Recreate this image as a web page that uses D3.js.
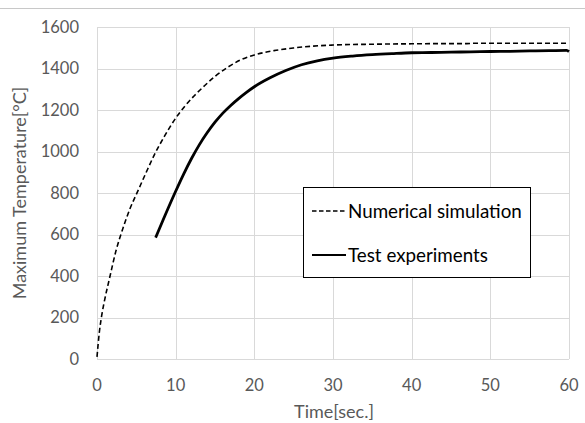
<!DOCTYPE html>
<html>
<head>
<meta charset="utf-8">
<script src="https://cdn.jsdelivr.net/npm/d3@7"></script>
<style>
  body { margin: 0; background: #fff; }
  svg { font-family: Lato, "Open Sans", sans-serif; }
</style>
</head>
<body>
<svg class="chart" width="585" height="423"></svg>
<script>
// Numerical simulation (dashed)
const simTime = [0, 0.3, 0.6, 1.0, 1.6, 2.4, 3.3, 4.2, 5.2, 6.2, 7.3, 8.6, 9.9, 11.2, 12.4, 13.7, 15.0, 16.7, 18.3, 20.0, 22.5, 25.0, 27.5, 30.0, 35.0, 40.0, 45.0, 47.0, 48.0, 60.0];
const simTemp = [10, 130, 210, 290, 390, 520, 630, 725, 810, 895, 985, 1075, 1155, 1220, 1270, 1318, 1362, 1408, 1442, 1465, 1486, 1499, 1508, 1513, 1517, 1519, 1520, 1520, 1522, 1522];

// Test experiments (solid, measured)
const expTime = [7.45, 8.4, 9.9, 11.0, 12.0, 13.0, 14.0, 15.0, 16.0, 17.0, 18.0, 19.0, 20.0, 22.0, 24.0, 26.0, 28.0, 30.0, 32.5, 35.0, 37.5, 40.0, 42.5, 45.0, 47.5, 50.0, 52.5, 55.0, 57.5, 59.7, 60.0];
const expTemp = [585, 670, 800, 890, 965, 1032, 1090, 1141, 1185, 1222, 1255, 1285, 1312, 1355, 1390, 1418, 1437, 1450, 1460, 1467, 1472, 1476, 1477, 1479, 1480, 1482, 1483, 1485, 1486, 1487, 1481];

const xTicks = [0, 10, 20, 30, 40, 50, 60];
const yTicks = [0, 200, 400, 600, 800, 1000, 1200, 1400, 1600];

const svg = d3.select(".chart");
const plot = { left: 97, right: 569, top: 27, bottom: 359 };

const x = d3.scaleLinear().domain([0, 60]).range([plot.left, plot.right]);
const y = d3.scaleLinear().domain([0, 1600]).range([plot.bottom, plot.top]);

// thin rule across the top of the frame
svg.append("line")
    .attr("x1", 0).attr("x2", 585)
    .attr("y1", 8.5).attr("y2", 8.5)
    .attr("stroke", "#c8c8c8")
    .attr("stroke-width", 1);

// gridlines
svg.append("g")
    .selectAll("line")
    .data(yTicks)
    .enter().append("line")
    .attr("x1", plot.left).attr("x2", plot.right)
    .attr("y1", d => Math.round(y(d)) + 0.5).attr("y2", d => Math.round(y(d)) + 0.5)
    .attr("stroke", "#d9d9d9");

svg.append("g")
    .selectAll("line")
    .data(xTicks)
    .enter().append("line")
    .attr("y1", plot.top).attr("y2", plot.bottom)
    .attr("x1", d => Math.round(x(d)) + 0.5).attr("x2", d => Math.round(x(d)) + 0.5)
    .attr("stroke", "#d9d9d9");

// tick labels
svg.append("g")
    .selectAll("text")
    .data(yTicks)
    .enter().append("text")
    .attr("x", 79)
    .attr("y", d => y(d))
    .attr("dy", "0.35em")
    .attr("text-anchor", "end")
    .attr("font-size", "16.5px")
    .attr("fill", "#595959")
    .text(d => d);

svg.append("g")
    .selectAll("text")
    .data(xTicks)
    .enter().append("text")
    .attr("x", d => x(d))
    .attr("y", 385)
    .attr("dy", "0.35em")
    .attr("text-anchor", "middle")
    .attr("font-size", "16.5px")
    .attr("fill", "#595959")
    .text(d => d);

// axis titles
svg.append("text")
    .attr("x", 334)
    .attr("y", 412)
    .attr("dy", "0.35em")
    .attr("text-anchor", "middle")
    .attr("font-size", "18px")
    .attr("fill", "#595959")
    .text("Time[sec.]");

svg.append("text")
    .attr("transform", "translate(20,193) rotate(-90)")
    .attr("dy", "0.35em")
    .attr("text-anchor", "middle")
    .attr("font-size", "18px")
    .attr("fill", "#595959")
    .text("Maximum Temperature[°C]");

// lines
const line = d3.line()
    .x(d => x(d[0]))
    .y(d => y(d[1]))
    .curve(d3.curveMonotoneX);

svg.append("path")
    .datum(simTime.map((t, i) => [t, simTemp[i]]))
    .attr("d", line)
    .attr("fill", "none")
    .attr("stroke", "#000")
    .attr("stroke-width", 1.6)
    .attr("stroke-dasharray", "5,3");

svg.append("path")
    .datum(expTime.map((t, i) => [t, expTemp[i]]))
    .attr("d", line)
    .attr("fill", "none")
    .attr("stroke", "#000")
    .attr("stroke-width", 2.8);

// legend
const lg = svg.append("g");
lg.append("rect")
    .attr("x", 303.5).attr("y", 187.5)
    .attr("width", 227).attr("height", 90)
    .attr("fill", "#fff")
    .attr("stroke", "#000");

lg.append("line")
    .attr("x1", 312).attr("x2", 346)
    .attr("y1", 211).attr("y2", 211)
    .attr("stroke", "#000")
    .attr("stroke-width", 1.6)
    .attr("stroke-dasharray", "4.5,2.5");

lg.append("line")
    .attr("x1", 312).attr("x2", 346)
    .attr("y1", 255).attr("y2", 255)
    .attr("stroke", "#000")
    .attr("stroke-width", 2);

lg.append("text")
    .attr("x", 348).attr("y", 211)
    .attr("dy", "0.35em")
    .attr("font-size", "18.8px")
    .text("Numerical simulation");

lg.append("text")
    .attr("x", 348).attr("y", 255)
    .attr("dy", "0.35em")
    .attr("font-size", "18.8px")
    .text("Test experiments");
</script>
</body>
</html>
